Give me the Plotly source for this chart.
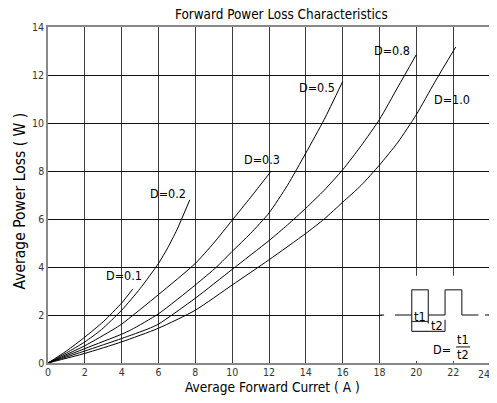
import plotly.graph_objects as go

# ---- data ----
d01_x = [0, 1, 2, 3, 4, 4.6]
d01_y = [0, 0.5, 1.08, 1.72, 2.5, 3.08]

d02_x = [0, 1, 2, 2.9, 4, 5, 6, 6.5, 7, 7.7]
d02_y = [0, 0.42, 0.88, 1.39, 2.2, 3.1, 4.15, 4.8, 5.55, 6.8]

d03_x = [0, 2, 3.53, 4, 6, 8, 9, 10, 11, 12.1]
d03_y = [0, 0.72, 1.39, 1.62, 2.85, 4.15, 5.0, 5.95, 6.9, 7.98]

d05_x = [0, 2, 4, 4.53, 6, 8, 9.15, 10, 11, 12, 13, 14, 15, 16]
d05_y = [0, 0.6, 1.2, 1.39, 2.05, 3.25, 4.0, 4.65, 5.4, 6.25, 7.4, 8.75, 10.15, 11.73]

d08_x = [0, 2, 4, 5.43, 6, 8, 10, 12, 13, 14, 15, 16, 17, 18, 19, 20]
d08_y = [0, 0.5, 1.02, 1.42, 1.62, 2.7, 3.9, 5.1, 5.75, 6.45, 7.2, 8.05, 9.05, 10.15, 11.5, 12.85]

d10_x = [0, 2, 4, 6, 8, 10, 12, 14, 15, 16, 17, 18, 19, 20, 21, 22.14]
d10_y = [0, 0.4, 0.88, 1.45, 2.2, 3.25, 4.3, 5.4, 6.0, 6.7, 7.4, 8.25, 9.2, 10.35, 11.7, 13.17]

series = [(d01_x, d01_y), (d02_x, d02_y), (d03_x, d03_y),
          (d05_x, d05_y), (d08_x, d08_y), (d10_x, d10_y)]

labels = ["D=0.1", "D=0.2", "D=0.3", "D=0.5", "D=0.8", "D=1.0"]
label_x = [4.15, 6.5, 11.6, 14.63, 18.7, 21.94]
label_y = [3.65, 7.07, 8.47, 11.46, 13.03, 10.99]

x_ticks = [0, 2, 4, 6, 8, 10, 12, 14, 16, 18, 20, 22, 24]
y_ticks = [0, 2, 4, 6, 8, 10, 12, 14]

FONT = "Liberation Sans Narrow, DejaVu Sans Condensed, Liberation Sans, Arial"
TICK_FONT = dict(size=10.5, color="#333", family=FONT)

fig = go.Figure()
for (xs, ys), name in zip(series, labels):
    fig.add_trace(go.Scatter(x=xs, y=ys, mode="lines", name=name,
                             line=dict(color="black", width=1, shape="spline", smoothing=0.6),
                             hoverinfo="skip", showlegend=False))

annotations = []
for t, lx, ly in zip(labels, label_x, label_y):
    annotations.append(dict(x=lx, y=ly, xref="x", yref="y", text=t, showarrow=False,
                            xanchor="center", yanchor="middle",
                            font=dict(size=12.5, color="black", family=FONT)))

# titles
annotations.append(dict(x=0.529, y=1.037, xref="paper", yref="paper",
                        text="Forward Power Loss Characteristics", showarrow=False,
                        xanchor="center", yanchor="middle",
                        font=dict(size=13.4, color="black", family=FONT)))
annotations.append(dict(x=0.509, y=-0.072, xref="paper", yref="paper",
                        text="Average Forward Curret ( A )", showarrow=False,
                        xanchor="center", yanchor="middle",
                        font=dict(size=13.6, color="black", family=FONT)))
annotations.append(dict(x=-0.064, y=0.483, xref="paper", yref="paper",
                        text="Average Power Loss ( W )", showarrow=False, textangle=-90,
                        xanchor="center", yanchor="middle",
                        font=dict(size=15.5, color="black", family=FONT)))

# last x tick label, nudged inside the page edge as in the reference
last_tick = x_ticks[-1]
annotations.append(dict(x=last_tick, y=0, xref="x", yref="y", text=str(last_tick),
                        showarrow=False, xanchor="center", yanchor="top",
                        xshift=-6, yshift=-3, font=TICK_FONT))

# inset: duty-cycle pulse diagram
inset_font = dict(size=12.5, color="black", family=FONT)
inset_texts = [("t1", 20.2, 1.94), ("t2", 21.1, 1.55), ("D=", 21.38, 0.55),
               ("t1", 22.54, 0.98), ("t2", 22.54, 0.36)]
for t, tx, ty in inset_texts:
    annotations.append(dict(x=tx, y=ty, xref="x", yref="y", text=t, showarrow=False,
                            xanchor="center", yanchor="middle", font=inset_font))

shapes = [
    dict(type="rect", xref="x", yref="y", x0=18.12, x1=23.93, y0=0.08, y1=3.64,
         fillcolor="white", line=dict(width=0), layer="above"),
]
wave_segments = [
    (18.04, 2.0, 18.25, 2.0),
    (18.84, 2.0, 19.75, 2.0),
    (19.75, 2.0, 19.75, 3.05),
    (19.75, 3.05, 20.65, 3.05),
    (20.65, 3.05, 20.65, 2.0),
    (20.65, 2.0, 21.56, 2.0),
    (21.56, 2.0, 21.56, 3.05),
    (21.56, 3.05, 22.47, 3.05),
    (22.47, 3.05, 22.47, 2.0),
    (22.47, 2.0, 23.37, 2.0),
    (23.73, 2.0, 24.0, 2.0),
    # dimension lines
    (19.75, 2.0, 19.75, 1.32),
    (19.75, 1.73, 20.65, 1.73),
    (20.65, 2.0, 20.65, 1.65),
    (19.75, 1.32, 21.56, 1.32),
    (21.56, 1.8, 21.56, 1.32),
    # fraction bar
    (22.16, 0.67, 22.92, 0.67),
]
for x0, y0, x1, y1 in wave_segments:
    shapes.append(dict(type="line", xref="x", yref="y", x0=x0, y0=y0, x1=x1, y1=y1,
                       line=dict(color="#333333", width=1.2), layer="above"))

# page body has an 8px margin, so the figure is sized/offset to match the 497x403 view
fig.update_layout(
    width=489, height=387,
    margin=dict(l=40, r=7, t=19, b=32, autoexpand=False),
    paper_bgcolor="white", plot_bgcolor="white",
    annotations=annotations, shapes=shapes,
    font=dict(family=FONT, color="black"),
)
fig.update_xaxes(range=[0, 24], tickvals=x_ticks[:-1], ticktext=[str(v) for v in x_ticks[:-1]],
                 showgrid=True, gridcolor="#3c3c3c", gridwidth=1.3,
                 showline=True, linecolor="#888888", linewidth=2, mirror=True,
                 zeroline=False, ticks="", ticklabelstandoff=-2,
                 tickfont=TICK_FONT, fixedrange=True)
fig.update_yaxes(range=[0, 14], tickvals=y_ticks, ticktext=[str(v) for v in y_ticks],
                 showgrid=True, gridcolor="#111111", gridwidth=1.2,
                 showline=True, linecolor="#888888", linewidth=1.5, mirror=True,
                 zeroline=False, ticks="", tickfont=TICK_FONT, fixedrange=True)

fig.write_html("out.html")
